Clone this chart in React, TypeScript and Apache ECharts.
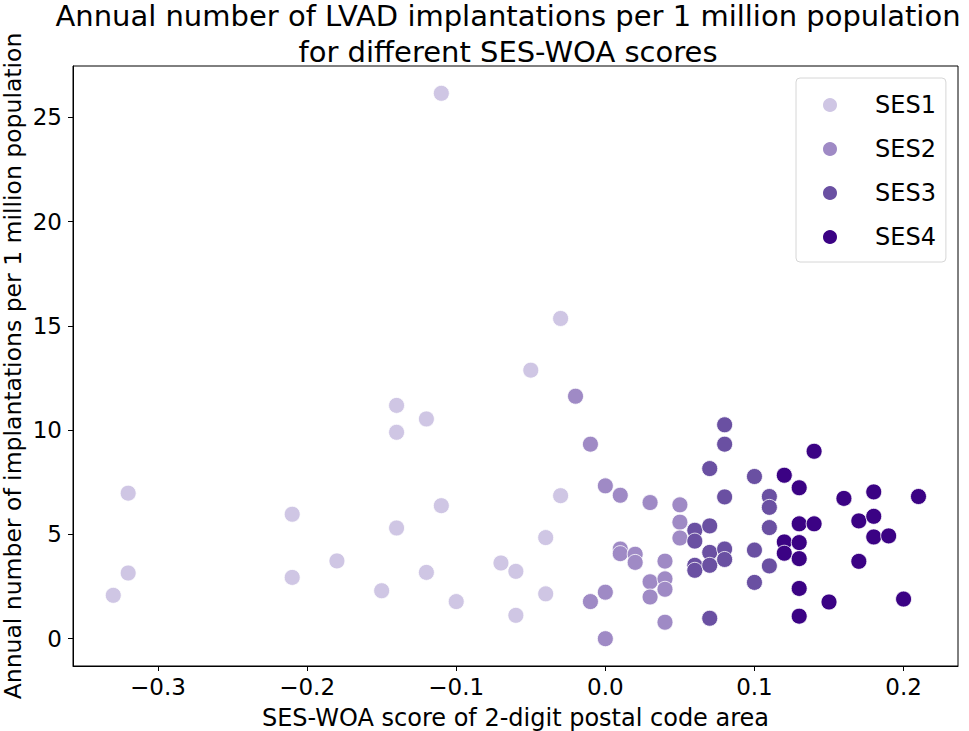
import React, { useEffect, useRef } from 'react';
import * as echarts from 'echarts';

// [SES-WOA score, implantations per 1 million]
const ses1: [number, number][] = [
  [-0.33, 2.08], [-0.32, 3.15], [-0.32, 6.98], [-0.21, 5.97], [-0.21, 2.94],
  [-0.18, 3.73], [-0.15, 2.3], [-0.14, 11.19], [-0.14, 9.9], [-0.14, 5.31],
  [-0.12, 10.54], [-0.12, 3.18], [-0.11, 6.38], [-0.11, 26.16], [-0.1, 1.78],
  [-0.07, 3.63], [-0.06, 3.23], [-0.06, 1.12], [-0.05, 12.88], [-0.04, 4.85],
  [-0.04, 2.15], [-0.03, 15.36], [-0.03, 6.86],
];

const ses2: [number, number][] = [
  [-0.02, 11.63], [-0.01, 9.33], [-0.01, 1.78], [0.0, 7.33], [0.0, 2.23],
  [0.0, 0.0], [0.01, 6.88], [0.01, 4.3], [0.01, 4.08], [0.02, 4.05],
  [0.02, 3.66], [0.03, 6.53], [0.03, 2.73], [0.03, 2.0], [0.04, 3.72],
  [0.04, 2.87], [0.04, 2.37], [0.04, 0.79], [0.05, 6.42], [0.05, 5.59],
  [0.05, 4.83],
];

const ses3: [number, number][] = [
  [0.06, 5.2], [0.06, 4.68], [0.06, 3.52], [0.06, 3.28], [0.07, 8.16],
  [0.07, 5.41], [0.07, 4.14], [0.07, 3.52], [0.07, 0.98], [0.08, 10.26],
  [0.08, 9.33], [0.08, 6.8], [0.08, 4.3], [0.08, 3.8], [0.1, 7.78],
  [0.1, 4.25], [0.1, 2.7], [0.11, 6.82], [0.11, 6.3], [0.11, 5.33],
  [0.11, 3.49],
];

const ses4: [number, number][] = [
  [0.12, 7.84], [0.12, 4.64], [0.12, 4.1], [0.13, 7.24], [0.13, 5.51],
  [0.13, 4.61], [0.13, 3.84], [0.13, 2.41], [0.13, 1.08], [0.14, 8.99],
  [0.14, 5.51], [0.15, 1.76], [0.16, 6.73], [0.17, 5.65], [0.17, 3.71],
  [0.18, 7.04], [0.18, 5.87], [0.18, 4.88], [0.19, 4.93], [0.2, 1.9],
  [0.21, 6.82],
];

const groupNames = ['SES1', 'SES2', 'SES3', 'SES4'];
const groupColors = ['#cfc6e4', '#9f8ac5', '#6a50a2', '#3b0284'];
const xTicks = [-0.3, -0.2, -0.1, 0.0, 0.1, 0.2];
const yTicks = [0, 5, 10, 15, 20, 25];
const titleLines = [
  'Annual number of LVAD implantations per 1 million population',
  'for different SES-WOA scores',
];

const FONT = 'DejaVu Sans';

const App: React.FC = () => {
  const chartRef = useRef<HTMLDivElement>(null);

  useEffect(() => {
    if (!chartRef.current) return;
    const chart = echarts.init(chartRef.current, undefined, { renderer: 'svg' });

    const groups = [ses1, ses2, ses3, ses4];

    const option: echarts.EChartsOption = {
      animation: false,
      backgroundColor: '#fff',
      textStyle: { fontFamily: FONT, color: '#000' },
      // two title lines, placed one by one to match the wide line spacing
      title: titleLines.map((text, i) => ({
        text,
        left: 508,
        top: 1 + i * 36,
        padding: 0,
        textAlign: 'center',
        textStyle: { fontFamily: FONT, fontSize: 29, fontWeight: 'normal', lineHeight: 29, color: '#000' },
      })),
      legend: {
        left: 796,
        top: 78,
        orient: 'vertical',
        icon: 'circle',
        itemWidth: 16,
        itemHeight: 16,
        itemGap: 20,
        padding: [15, 10, 13, 25],
        borderColor: '#d6d6d6',
        borderWidth: 1,
        borderRadius: 4,
        backgroundColor: 'rgba(255,255,255,0.8)',
        data: groupNames,
        textStyle: { fontFamily: FONT, fontSize: 24, lineHeight: 16, color: '#000', padding: [0, 0, 0, 32] },
      },
      grid: {
        left: 73,
        top: 66,
        right: 11,
        bottom: 65,
        show: true,
        borderColor: '#000',
        borderWidth: 1,
        containLabel: false,
        outerBoundsMode: 'none',
      } as any,
      xAxis: {
        type: 'value',
        min: -0.357,
        max: 0.2365,
        name: 'SES-WOA score of 2-digit postal code area',
        nameLocation: 'middle',
        nameGap: 40,
        nameTextStyle: { fontFamily: FONT, fontSize: 24, color: '#000' },
        splitLine: { show: false },
        axisLine: { show: true, onZero: false, lineStyle: { color: '#000', width: 1 } },
        axisTick: {
          show: true,
          inside: false,
          length: 5,
          customValues: xTicks,
          lineStyle: { color: '#000' },
        },
        axisLabel: {
          customValues: xTicks,
          margin: 9,
          fontFamily: FONT,
          fontSize: 23,
          color: '#000',
          formatter: (v: number) => {
            const s = Math.abs(v).toFixed(1);
            return v < -1e-9 ? '\u2212' + s : s;
          },
        },
      },
      yAxis: {
        type: 'value',
        min: -1.31,
        max: 27.47,
        name: 'Annual number of implantations per 1 million population',
        nameLocation: 'middle',
        nameGap: 48,
        nameMoveOverlap: false,
        nameTextStyle: { fontFamily: FONT, fontSize: 23.5, lineHeight: 24, color: '#000' },
        splitLine: { show: false },
        axisLine: { show: true, onZero: false, lineStyle: { color: '#000', width: 1 } },
        axisTick: {
          show: true,
          inside: false,
          length: 5,
          customValues: yTicks,
          lineStyle: { color: '#000' },
        },
        axisLabel: {
          customValues: yTicks,
          margin: 11,
          fontFamily: FONT,
          fontSize: 23,
          color: '#000',
        },
      } as any,
      series: groups.map((data, i) => ({
        name: groupNames[i],
        type: 'scatter',
        data,
        symbol: 'circle',
        symbolSize: 16,
        itemStyle: { color: groupColors[i], borderColor: '#fff', borderWidth: 0.8, opacity: 1 },
        emphasis: { disabled: true },
      })),
    };

    chart.setOption(option);

    return () => {
      chart.dispose();
    };
  }, []);

  return (
    <div
      ref={chartRef}
      style={{ position: 'fixed', left: 0, top: 0, width: '969px', height: '731px' }}
    />
  );
};

export default App;
